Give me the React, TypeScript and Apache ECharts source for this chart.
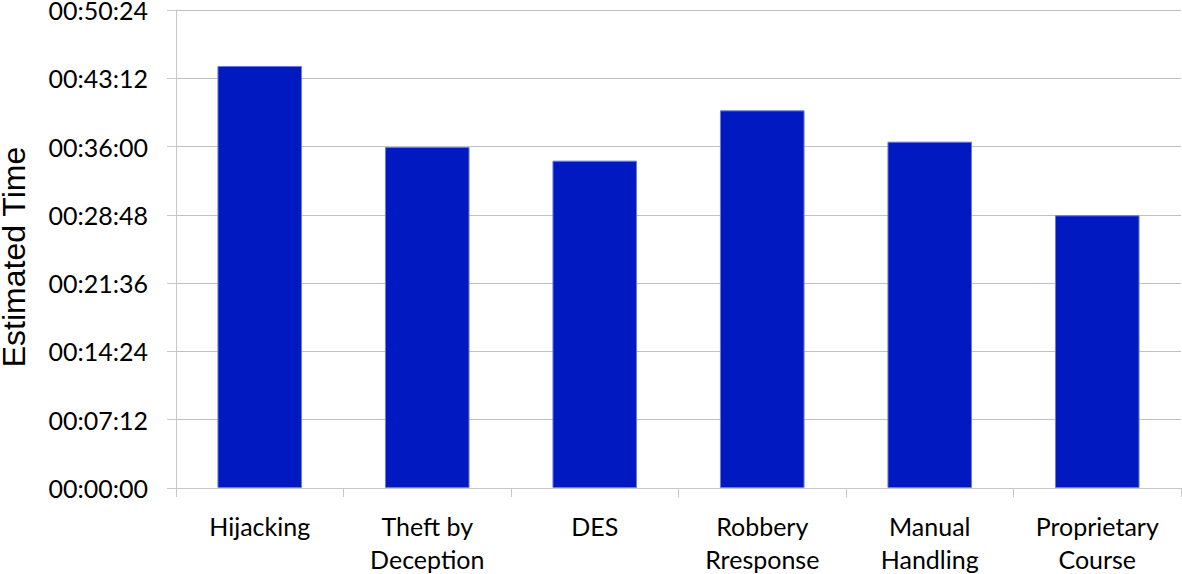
import React, { useEffect, useRef } from "react";
import * as echarts from "echarts";

const categories = [
  "Hijacking",
  "Theft by\nDeception",
  "DES",
  "Robbery\nRresponse",
  "Manual\nHandling",
  "Proprietary\nCourse",
];
// estimated time in seconds
const values = [2670, 2157, 2071, 2389, 2191, 1725];
const yMax = 3024;
const yInterval = 432;
const yTitle = "Estimated Time";

function fmt(v: number) {
  const h = Math.floor(v / 3600);
  const m = Math.floor((v % 3600) / 60);
  const s = Math.round(v % 60);
  const p = (n: number) => String(n).padStart(2, "0");
  return `${p(h)}:${p(m)}:${p(s)}`;
}

export default function App() {
  const ref = useRef<HTMLDivElement>(null);
  useEffect(() => {
    document.body.style.margin = "0";
    const chart = echarts.init(ref.current!, undefined, { renderer: "svg" });
    chart.setOption({
      animation: false,
      backgroundColor: "#ffffff",
      grid: {
        left: 176,
        right: 1,
        top: 10,
        bottom: 86,
        containLabel: false,
        outerBoundsMode: "none",
      },
      graphic: [
        {
          type: "text",
          x: 14,
          y: 257,
          rotation: Math.PI / 2,
          style: {
            text: yTitle,
            fontFamily: "Liberation Sans",
            fontSize: 32,
            fill: "#000",
            align: "center",
            verticalAlign: "middle",
          },
        },
      ],
      xAxis: {
        type: "category",
        data: categories,
        axisLine: { show: true, lineStyle: { color: "#c8c8c8", width: 1 } },
        axisTick: { show: true, length: 9, lineStyle: { color: "#c8c8c8" } },
        axisLabel: {
          fontFamily: "Lato",
          fontSize: 25,
          color: "#000",
          lineHeight: 33,
          margin: 21,
        },
      },
      yAxis: {
        type: "value",
        min: 0,
        max: yMax,
        interval: yInterval,
        axisLine: { show: true, lineStyle: { color: "#c8c8c8" } },
        axisTick: { show: true, length: 9, lineStyle: { color: "#c8c8c8" } },
        splitLine: { show: true, lineStyle: { color: "#c0c0c0", width: 1 } },
        axisLabel: {
          fontFamily: "Lato",
          fontSize: 25,
          color: "#000",
          margin: 28,
          formatter: (v: number) => fmt(v),
        },
      },
      series: [
        {
          type: "bar",
          data: values,
          barWidth: "50.5%",
          itemStyle: { color: "#0019c0", borderColor: "#6b7ce0", borderWidth: 1 },
        },
      ],
    });
    return () => chart.dispose();
  }, []);
  return <div ref={ref} style={{ width: 1182, height: 574 }} />;
}
